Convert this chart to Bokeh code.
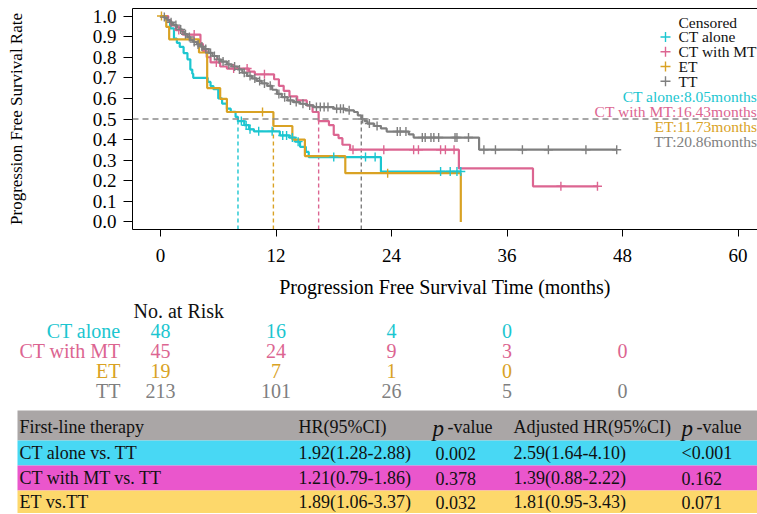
import numpy as np
from bokeh.plotting import figure
from bokeh.models import (Range1d, FactorRange, FixedTicker, NumeralTickFormatter,
                          LinearAxis, Span, ColumnDataSource)
from bokeh.layouts import column
from bokeh.core.properties import value
from bokeh.embed import file_html
from bokeh.resources import INLINE

FONT = "Liberation Serif"

# ---------------- data ----------------
groups = ["CT alone", "CT with MT", "ET", "TT"]
colors = ["#1cc6d0", "#dc6591", "#d9a224", "#7f7f7f"]
medians = [8.05, 16.43, 11.73, 20.86]
median_labels = ["CT alone:8.05months", "CT with MT:16.43months", "ET:11.73months", "TT:20.86months"]

ct_alone_time = [0.6, 1.0, 1.4, 1.7, 2.0, 2.4, 2.8, 3.1, 3.3, 3.4, 4.9, 5.2, 5.5, 6.0, 6.4,
                 6.9, 7.3, 7.8, 8.05, 8.7, 9.2, 9.7, 12.4, 13.4, 14.0, 14.5, 15.1, 15.4, 22.9]
ct_alone_surv = [0.98, 0.94, 0.89, 0.87, 0.85, 0.82, 0.79, 0.74, 0.72, 0.70, 0.68, 0.66, 0.645, 0.60, 0.575,
                 0.55, 0.535, 0.51, 0.49, 0.47, 0.45, 0.44, 0.42, 0.41, 0.39, 0.365, 0.34, 0.315, 0.245]
ct_alone_censor = [8.4, 8.9, 9.3, 10.2, 11.6, 12.7, 13.1, 13.7, 14.3, 18.0, 21.3, 22.3, 29.1, 30.1, 30.8, 31.2]
ct_alone_end = 31.2

ct_mt_time = [0.8, 1.1, 1.6, 2.3, 4.15, 4.4, 4.8, 5.2, 6.2, 6.9, 9.2, 9.8, 11.8, 12.3, 12.8, 13.4,
              14.2, 15.2, 15.8, 16.43, 17.5, 18.0, 18.5, 18.9, 19.7, 31.0, 38.7]
ct_mt_surv = [0.978, 0.955, 0.932, 0.91, 0.865, 0.83, 0.80, 0.775, 0.755, 0.745, 0.73, 0.717, 0.693, 0.661,
              0.637, 0.61, 0.59, 0.566, 0.534, 0.49, 0.47, 0.423, 0.407, 0.375, 0.351, 0.26, 0.173]
ct_mt_censor = [1.9, 3.5, 5.8, 7.6, 9.0, 10.8, 20.0, 23.2, 26.3, 26.8, 29.1, 29.6, 30.5, 41.6, 45.4]
ct_mt_end = 45.4

et_time = [0.6, 0.9, 4.0, 4.85, 6.2, 6.9, 11.73, 13.7, 15.0, 19.2, 31.2]
et_surv = [0.947, 0.887, 0.823, 0.65, 0.598, 0.534, 0.466, 0.40, 0.32, 0.237, 0.0]
et_censor = [0.1, 10.6, 23.6]
et_end = 31.2

tt_time = [0.3, 0.5, 0.7, 1.0, 1.2, 1.4, 1.7, 2.0, 2.25, 2.5, 2.8, 3.1, 3.4, 3.8, 4.16, 4.5, 5.0,
           5.4, 5.9, 6.3, 6.9, 7.4, 8.0, 8.5, 9.0, 9.5, 10.0, 10.5, 11.1, 11.6, 12.1, 12.6, 13.2,
           13.8, 14.5, 15.2, 15.9, 18.0, 19.2, 20.1, 20.5, 20.86, 21.2, 21.5, 22.2, 22.9, 23.5,
           25.8, 26.3, 33.1]
tt_surv = [0.995, 0.99, 0.98, 0.97, 0.962, 0.956, 0.945, 0.935, 0.924, 0.912, 0.898, 0.884, 0.874,
           0.862, 0.852, 0.84, 0.821, 0.806, 0.789, 0.779, 0.765, 0.755, 0.741, 0.725, 0.709, 0.697,
           0.685, 0.673, 0.661, 0.642, 0.622, 0.606, 0.59, 0.582, 0.574, 0.566, 0.558, 0.55, 0.542,
           0.534, 0.518, 0.50, 0.49, 0.478, 0.466, 0.454, 0.439, 0.425, 0.41, 0.351]
tt_censor = [0.4, 1.1, 1.6, 2.1, 2.6, 3.0, 3.5, 3.9, 4.3, 4.7, 5.2, 5.6, 6.1, 6.5, 7.1, 7.7, 8.2,
             8.7, 9.3, 9.8, 10.3, 10.8, 11.4, 12.3, 12.9, 13.5, 14.1, 14.8, 15.5, 16.2, 16.6, 17.0,
             17.4, 18.3, 18.7, 19.0, 19.6, 21.0, 21.7, 22.5, 24.6, 24.9, 25.5, 27.2, 27.5, 28.1,
             28.4, 28.9, 30.6, 30.8, 32.0, 33.6, 34.8, 37.6, 40.3, 44.2, 47.4]
tt_end = 47.4

km_times = [ct_alone_time, ct_mt_time, et_time, tt_time]
km_surv = [ct_alone_surv, ct_mt_surv, et_surv, tt_surv]
km_censor = [ct_alone_censor, ct_mt_censor, et_censor, tt_censor]
km_end = [ct_alone_end, ct_mt_end, et_end, tt_end]

x_ticks = [0, 12, 24, 36, 48, 60]
y_ticks = [0.0, 0.1, 0.2, 0.3, 0.4, 0.5, 0.6, 0.7, 0.8, 0.9, 1.0]

risk_times = [0, 12, 24, 36, 48]
risk_ct_alone = [48, 16, 4, 0]
risk_ct_mt = [45, 24, 9, 3, 0]
risk_et = [19, 7, 1, 0]
risk_tt = [213, 101, 26, 5, 0]
risk_counts = [risk_ct_alone, risk_ct_mt, risk_et, risk_tt]

table_headers = ["First-line therapy", "HR(95%CI)", "p -value", "Adjusted HR(95%CI)", "p -value"]
therapies = ["CT alone vs. TT", "CT with MT vs. TT", "ET vs.TT"]
hr = ["1.92(1.28-2.88)", "1.21(0.79-1.86)", "1.89(1.06-3.37)"]
p_hr = ["0.002", "0.378", "0.032"]
adj_hr = ["2.59(1.64-4.10)", "1.39(0.88-2.22)", "1.81(0.95-3.43)"]
p_adj = ["<0.001", "0.162", "0.071"]
row_fills = ["#aaa6a6", "#48d8f4", "#ea56cc", "#fdd86b"]

# ---------------- layout constants (page pixels) ----------------
W = 757
H1, H2, H3 = 300, 100, 113
PX_PER_MONTH = 115.5 / 12.0
ZERO_PX = 160            # px of t = 0
FRAME_LEFT = 132
B_TOP, B_BOTTOM = 8, 67
PX_PER_UNIT = 209.6
ONE_PX = 15.7            # px of survival = 1
x_start = (FRAME_LEFT - ZERO_PX) / PX_PER_MONTH
x_end = (W - ZERO_PX) / PX_PER_MONTH
full_x_start = (0 - ZERO_PX) / PX_PER_MONTH
y_end = 1.0 + (ONE_PX - B_TOP) / PX_PER_UNIT
y_start = y_end - (H1 - B_TOP - B_BOTTOM) / PX_PER_UNIT
LEG_KEY_PX, LEG_TEXT_PX, LEG_TITLE_PY, LEG_ROW0_PY, LEG_PITCH = 665, 678, 22, 37, 15
MED_ROW0_PY, MED_PITCH = 98, 15.3


def sx(px):  # page px -> months
    return (px - ZERO_PX) / PX_PER_MONTH


def sy(py):  # page px -> survival units
    return y_end - (py - B_TOP) / PX_PER_UNIT


def surv_at(times, surv, t):
    vals = [1.0] + list(surv)
    idx = np.searchsorted(np.array(times), np.array(t), side="right")
    return [vals[i] for i in idx]


# ---------------- KM figure ----------------
f1 = figure(width=W, height=H1, x_range=Range1d(x_start, x_end), y_range=Range1d(y_start, y_end),
            output_backend="svg", toolbar_location=None, frame_align=False,
            min_border_left=FRAME_LEFT, min_border_right=0, min_border_top=B_TOP,
            min_border_bottom=B_BOTTOM)
f1.grid.visible = False
f1.outline_line_color = None
f1.background_fill_color = "white"

f1.xaxis.ticker = FixedTicker(ticks=x_ticks)
f1.yaxis.ticker = FixedTicker(ticks=y_ticks)
f1.yaxis.formatter = NumeralTickFormatter(format="0.0")
for ax in (f1.xaxis[0], f1.yaxis[0]):
    ax.axis_line_color = "black"
    ax.major_tick_line_color = "black"
    ax.minor_tick_line_color = None
    ax.major_tick_in = 0
    ax.major_label_text_font = FONT
    ax.major_label_text_font_size = "19px"
    ax.major_label_text_color = "black"
    ax.axis_label_text_font = FONT
    ax.axis_label_text_font_style = "normal"
    ax.axis_label_text_color = "black"
f1.xaxis.major_tick_out = 7
f1.yaxis.major_tick_out = 9
f1.xaxis.axis_label = "Progression Free Survival Time (months)"
f1.xaxis.axis_label_text_font_size = "20px"
f1.xaxis.major_label_standoff = 12
f1.xaxis.axis_label_standoff = 11
f1.yaxis.axis_label = "Progression Free Survival Rate"
f1.yaxis.axis_label_text_font_size = "17px"
f1.yaxis.major_label_standoff = 7
f1.yaxis.axis_label_standoff = 64

top_axis = LinearAxis(ticker=FixedTicker(ticks=[]), major_tick_out=0, major_tick_in=0,
                      minor_tick_out=0, minor_tick_in=0, major_label_text_font_size="0px",
                      axis_line_color="black")
f1.add_layout(top_axis, "above")

f1.add_layout(Span(location=0.5, dimension="width", line_color="#8a8a8a",
                   line_dash="6 4", line_width=1.3))
f1.segment(x0=medians, y0=[y_start] * 4, x1=medians, y1=[0.5] * 4, line_color=colors,
           line_dash="4 3", line_width=1.4)

for times, surv, cens, end, col in zip(km_times, km_surv, km_censor, km_end, colors):
    xs = [0.0] + list(times) + [end]
    ys = [1.0] + list(surv) + [surv[-1]]
    f1.step(xs, ys, mode="after", line_color=col, line_width=2.2)
for times, surv, cens, end, col in zip(km_times, km_surv, km_censor, km_end, colors):
    f1.scatter(cens, surv_at(times, surv, cens), marker="cross", size=9, line_width=1.4,
               line_color=col)

# legend ("Censored" keys)
leg_rows = [sy(LEG_ROW0_PY + LEG_PITCH * i) for i in range(len(groups))]
f1.scatter([sx(LEG_KEY_PX)] * len(groups), leg_rows, marker="cross", size=10, line_width=1.4,
           line_color=colors)
f1.text(x=[sx(LEG_TEXT_PX)] * len(groups), y=leg_rows, text=groups, text_font=value(FONT),
        text_font_size=value("15.5px"), text_color="#111111", text_align="left",
        text_baseline="middle")
f1.text(x=[sx(LEG_TEXT_PX)], y=[sy(LEG_TITLE_PY)], text=["Censored"], text_font=value(FONT),
        text_font_size=value("15.5px"), text_color="#111111", text_align="left",
        text_baseline="middle")
f1.text(x=[x_end - 0.05] * 4, y=[sy(MED_ROW0_PY + MED_PITCH * i) for i in range(4)],
        text=median_labels, text_font=value(FONT), text_font_size=value("15.5px"),
        text_color=colors, text_align="right", text_baseline="middle")

# ---------------- risk table ----------------
row_factors = ["TT", "ET", "CT with MT", "CT alone", "No. at Risk"]
f2 = figure(width=W, height=H2, x_range=Range1d(full_x_start, x_end),
            y_range=FactorRange(factors=row_factors), x_axis_type=None, y_axis_type=None,
            output_backend="svg", toolbar_location=None, min_border=0, frame_align=False)
f2.grid.visible = False
f2.outline_line_color = None

f2.text(x=[sx(120)] * 4, y=groups, text=groups, text_color=colors, text_font=value(FONT),
        text_font_size=value("20px"), text_align="right", text_baseline="middle")
f2.text(x=[sx(133)], y=["No. at Risk"], text=["No. at Risk"], text_color="#111111",
        text_font=value(FONT), text_font_size=value("20px"), text_align="left",
        text_baseline="middle")
rx, ry, rt, rc = [], [], [], []
for g, counts, col in zip(groups, risk_counts, colors):
    for t, n in zip(risk_times, counts):
        rx.append(t)
        ry.append(g)
        rt.append(str(n))
        rc.append(col)
risk_src = ColumnDataSource(dict(x=rx, y=ry, text=rt, color=rc))
f2.text(x="x", y="y", text="text", text_color="color", source=risk_src, text_font=value(FONT),
        text_font_size=value("20px"), text_align="center", text_baseline="middle")

# ---------------- HR table ----------------
row_edges = [10, 40, 65, 90, 113]
col_x = [19, 298, 432, 513, 681]
f3 = figure(width=W, height=H3, x_range=Range1d(0, W), y_range=Range1d(H3, 0),
            x_axis_type=None, y_axis_type=None, output_backend="svg", toolbar_location=None,
            min_border=0, frame_align=False)
f3.grid.visible = False
f3.outline_line_color = None
f3.quad(left=[17] * 4, right=[W] * 4, top=row_edges[:-1], bottom=row_edges[1:],
        fill_color=row_fills, line_color=None)
centers = [(a + b) / 2 for a, b in zip(row_edges[:-1], row_edges[1:])]

hdr_y = centers[0] + 1.5
f3.text(x=[col_x[0], col_x[1], col_x[3]], y=[hdr_y] * 3,
        text=[table_headers[0], table_headers[1], table_headers[3]],
        text_font=value(FONT), text_font_size=value("18px"), text_color="#111111",
        text_align="left", text_baseline="middle")
f3.text(x=[col_x[2], col_x[4]], y=[hdr_y + 1] * 2, text=["p", "p"], text_font=value(FONT),
        text_font_size=value("23px"), text_font_style="italic", text_color="#111111",
        text_align="left", text_baseline="middle")
f3.text(x=[col_x[2] + 15, col_x[4] + 15], y=[hdr_y] * 2, text=["-value", "-value"],
        text_font=value(FONT), text_font_size=value("18px"), text_color="#111111",
        text_align="left", text_baseline="middle")

tx, ty, tt = [], [], []
for i in range(3):
    for cx, vals in zip([col_x[0], col_x[1], col_x[2] + 3, col_x[3], col_x[4]],
                        [therapies, hr, p_hr, adj_hr, p_adj]):
        tx.append(cx)
        ty.append(centers[i + 1])
        tt.append(vals[i])
tab_src = ColumnDataSource(dict(x=tx, y=ty, text=tt))
f3.text(x="x", y="y", text="text", source=tab_src, text_font=value(FONT),
        text_font_size=value("18px"), text_color="#111111", text_align="left",
        text_baseline="middle")

layout = column(f1, f2, f3, spacing=0)
open("out.html", "w").write(file_html(layout, INLINE))
